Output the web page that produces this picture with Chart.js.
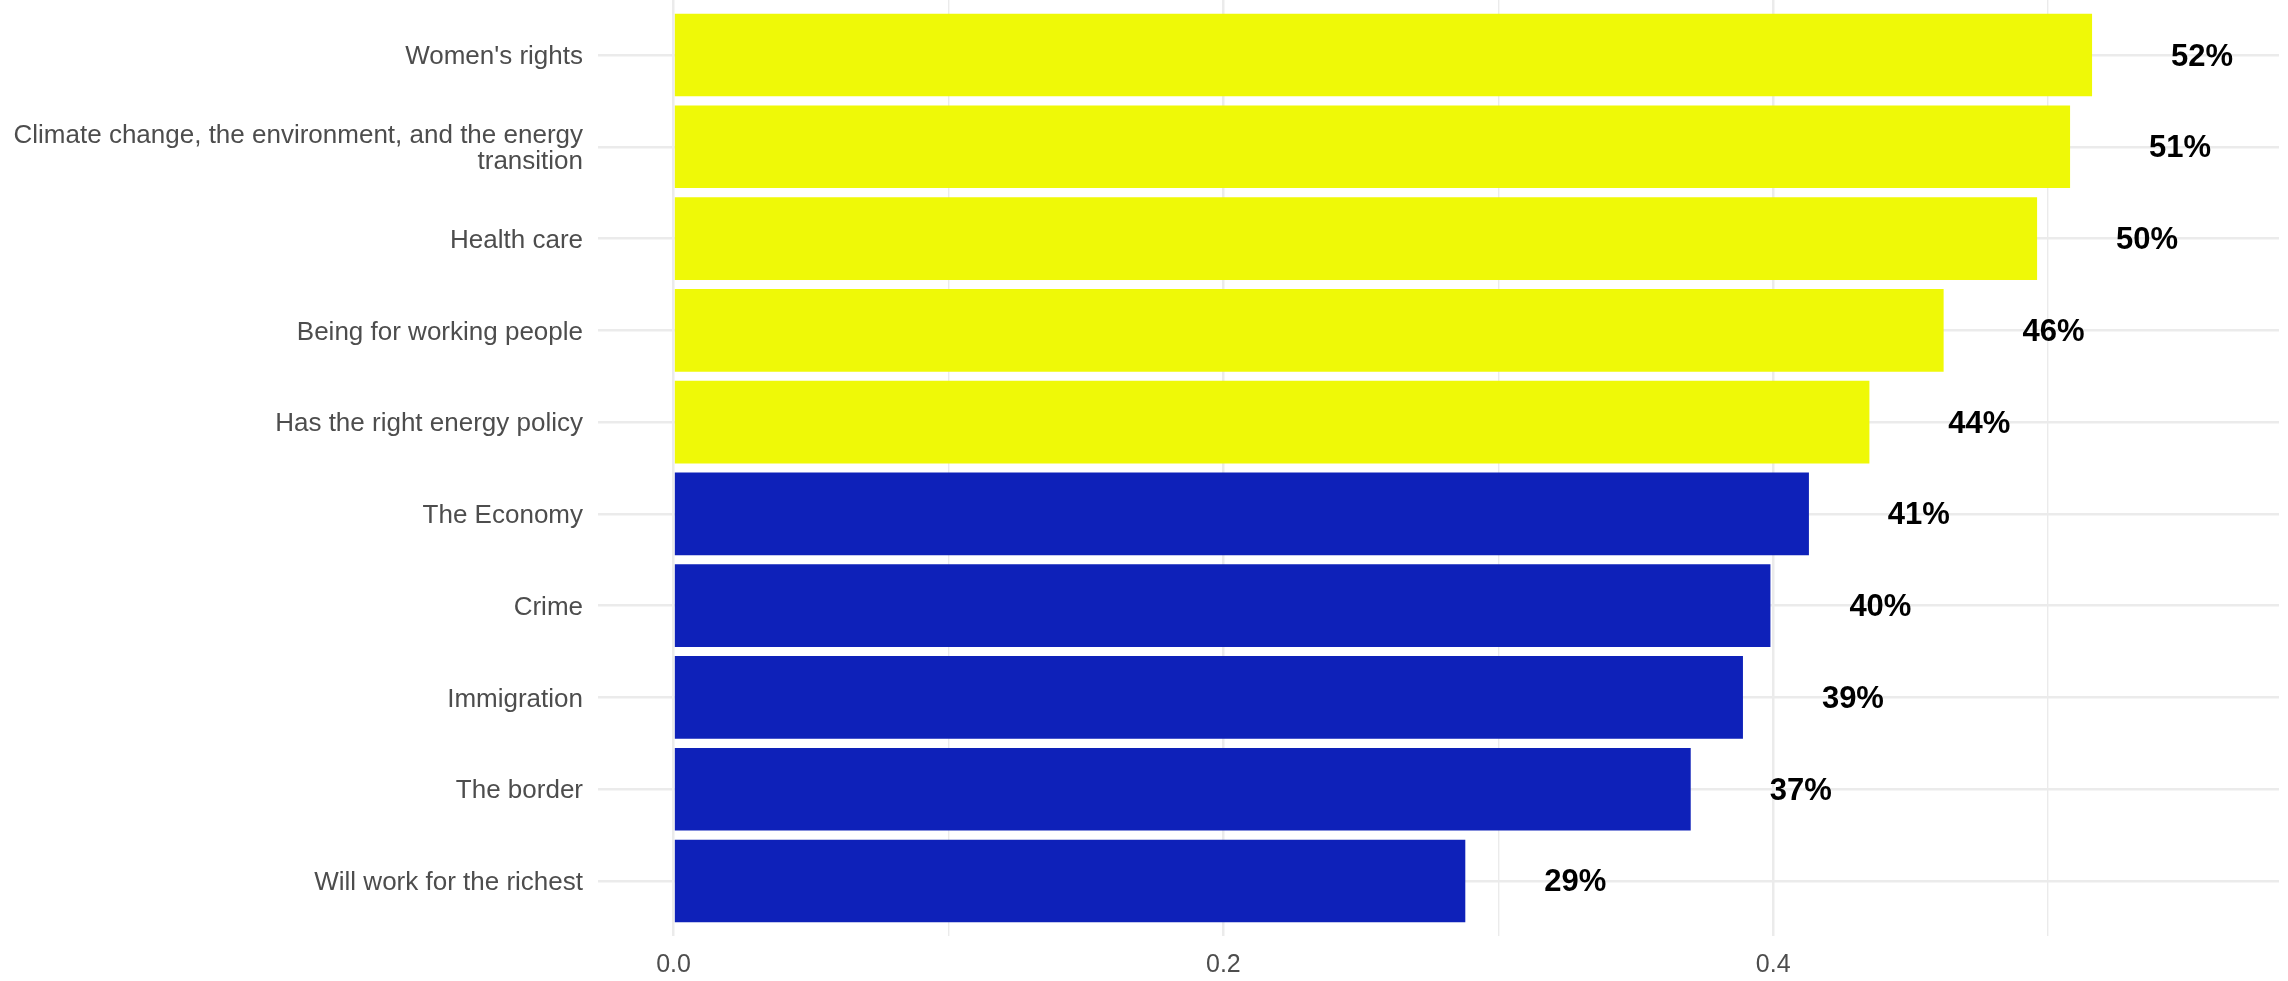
<!DOCTYPE html>
<html>
<head>
<meta charset="utf-8">
<script src="https://cdn.jsdelivr.net/npm/chart.js@4/dist/chart.umd.min.js"></script>
<style>
  html, body { margin: 0; padding: 0; background: #fff; }
  #wrap { width: 2288px; height: 981px; position: relative; }
</style>
</head>
<body>
<div id="wrap"><canvas id="chart"></canvas></div>
<script>
// data
const categories = [
  "Women's rights",
  ["Climate change, the environment, and the energy", "transition"],
  "Health care",
  "Being for working people",
  "Has the right energy policy",
  "The Economy",
  "Crime",
  "Immigration",
  "The border",
  "Will work for the richest"
];
const values = [0.516, 0.508, 0.496, 0.462, 0.435, 0.413, 0.399, 0.389, 0.370, 0.288];
const pctLabels = ["52%", "51%", "50%", "46%", "44%", "41%", "40%", "39%", "37%", "29%"];
const barGroup = ["yellow", "yellow", "yellow", "yellow", "yellow", "blue", "blue", "blue", "blue", "blue"];
const xTickValues = [0, 0.1, 0.2, 0.3, 0.4, 0.5];
const xTickLabels = ["0.0", "", "0.2", "", "0.4", ""];

const groupColors = { yellow: "#eff907", blue: "#0e21b9" };
const FONT = "'Liberation Sans', Arial, Helvetica, sans-serif";
const LABEL_OFFSET = 0.04;

const valueLabels = {
  id: "valueLabels",
  afterDatasetsDraw(chart) {
    const { ctx, scales } = chart;
    ctx.save();
    ctx.font = "bold 31px " + FONT;
    ctx.fillStyle = "#000";
    ctx.textAlign = "center";
    ctx.textBaseline = "middle";
    values.forEach((v, i) => {
      const x = scales.x.getPixelForValue(v + LABEL_OFFSET);
      const y = scales.y.getPixelForValue(i);
      ctx.fillText(pctLabels[i], x, y + 2);
    });
    ctx.restore();
  }
};

new Chart(document.getElementById("chart"), {
  type: "bar",
  data: {
    datasets: [{
      data: values.map((v, i) => ({ x: v, y: i })),
      backgroundColor: barGroup.map(g => groupColors[g]),
      borderWidth: 0,
      barPercentage: 0.9,
      categoryPercentage: 1.0
    }]
  },
  options: {
    indexAxis: "y",
    responsive: true,
    maintainAspectRatio: false,
    animation: false,
    layout: { padding: { left: 0, right: 9, top: 0, bottom: 0 } },
    plugins: { legend: { display: false }, tooltip: { enabled: false } },
    scales: {
      x: {
        type: "linear",
        min: -0.0275,
        max: 0.584,
        afterBuildTicks: s => { s.ticks = xTickValues.map(v => ({ value: v })); },
        afterFit: s => { s.height = 45; },
        border: { display: false },
        grid: {
          drawTicks: false,
          color: "#ebebeb",
          lineWidth: c => (xTickLabels[xTickValues.indexOf(c.tick && c.tick.value)] ? 2.5 : 1.4)
        },
        ticks: {
          padding: 14,
          color: "#4d4d4d",
          font: { family: FONT, size: 25 },
          autoSkip: false,
          maxRotation: 0,
          callback: (v, i) => xTickLabels[i]
        }
      },
      y: {
        type: "linear",
        reverse: true,
        offset: false,
        min: -0.6,
        max: 9.6,
        afterBuildTicks: s => { s.ticks = categories.map((c, i) => ({ value: i })); },
        afterFit: s => { s.width = 598; s.paddingTop = 0; s.paddingBottom = 0; },
        border: { display: false },
        grid: { offset: false, drawTicks: false, color: "#ebebeb", lineWidth: 2.5 },
        ticks: {
          padding: 15,
          labelOffset: 2,
          color: "#4d4d4d",
          font: { family: FONT, size: 26, lineHeight: 1.0 },
          autoSkip: false,
          callback: v => categories[v]
        }
      }
    }
  },
  plugins: [valueLabels]
});
</script>
</body>
</html>
